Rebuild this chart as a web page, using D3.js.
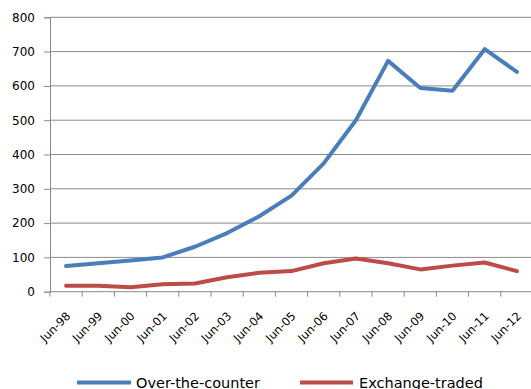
<!DOCTYPE html>
<html>
<head>
<meta charset="utf-8">
<script src="https://cdn.jsdelivr.net/npm/d3@7/dist/d3.min.js"></script>
<style>
  html, body { margin: 0; padding: 0; background: #ffffff; }
  svg { display: block; }
  text { font-family: "DejaVu Sans", Verdana, sans-serif; fill: #000; }
</style>
</head>
<body>
<svg id="chart" width="531" height="389"></svg>
<script>
// Semiannual dates (June of each year)
const categories = ["Jun-98", "Jun-99", "Jun-00", "Jun-01", "Jun-02", "Jun-03", "Jun-04",
  "Jun-05", "Jun-06", "Jun-07", "Jun-08", "Jun-09", "Jun-10", "Jun-11", "Jun-12"];

// Notional amounts outstanding
const overTheCounter = [75, 83, 91, 100, 131, 171, 220, 280, 374, 500, 673, 594, 586, 707, 641];
const exchangeTraded = [17, 17, 13, 22, 24, 42, 55, 60, 83, 97, 83, 65, 76, 85, 60];

const yTicks = [0, 100, 200, 300, 400, 500, 600, 700, 800];

const seriesNames = ["Over-the-counter", "Exchange-traded"];
const seriesColors = ["#4a7ebb", "#be4b48"];

const svg = d3.select("#chart");

const plotLeft = 50, plotRight = 533, plotTop = 17.3, plotBottom = 291.7;

const x = d3.scaleBand().domain(categories).range([plotLeft, plotRight]).padding(0);
const y = d3.scaleLinear().domain([0, 800]).range([plotBottom, plotTop]);

// Horizontal gridlines
svg.append("g")
  .selectAll("line")
  .data(yTicks.filter(d => d > 0))
  .join("line")
  .attr("x1", plotLeft).attr("x2", plotRight)
  .attr("y1", d => y(d)).attr("y2", d => y(d))
  .attr("stroke", "#8a8a8a").attr("stroke-width", 1);

// Y axis
const yAxis = svg.append("g")
  .attr("transform", `translate(${plotLeft},0)`)
  .call(d3.axisLeft(y).tickValues(yTicks).tickSize(6).tickPadding(9).tickFormat(d3.format("d")));
yAxis.select(".domain").attr("stroke", "#8a8a8a");
yAxis.selectAll(".tick line").attr("stroke", "#8a8a8a");
yAxis.selectAll(".tick text")
  .style("font-family", "'DejaVu Sans', Verdana, sans-serif")
  .style("font-size", "12px").attr("fill", "#000");

// X axis: tick marks at category boundaries
const xAxisG = svg.append("g").attr("transform", `translate(0,${plotBottom})`);
xAxisG.append("line")
  .attr("x1", plotLeft).attr("x2", plotRight).attr("y1", 0).attr("y2", 0)
  .attr("stroke", "#8a8a8a");
const boundaries = categories.map(c => x(c)).concat([x(categories[categories.length - 1]) + x.bandwidth()]);
xAxisG.selectAll("line.tk")
  .data(boundaries)
  .join("line")
  .attr("class", "tk")
  .attr("x1", d => d).attr("x2", d => d)
  .attr("y1", 0).attr("y2", 5)
  .attr("stroke", "#8a8a8a");

// Rotated category labels
svg.append("g")
  .selectAll("text")
  .data(categories)
  .join("text")
  .attr("transform", d => `translate(${x(d) + x.bandwidth() / 2 + 5},${plotBottom + 25}) rotate(-45)`)
  .attr("text-anchor", "end")
  .style("font-size", "11.5px")
  .text(d => d);

// Series lines
const line = d3.line()
  .x((d, i) => x(categories[i]) + x.bandwidth() / 2)
  .y(d => y(d));

[overTheCounter, exchangeTraded].forEach((vals, k) => {
  svg.append("path")
    .datum(vals)
    .attr("d", line)
    .attr("fill", "none")
    .attr("stroke", seriesColors[k])
    .attr("stroke-width", 4)
    .attr("stroke-linejoin", "round")
    .attr("stroke-linecap", "round");
});

// Legend
const legendItems = [
  { name: seriesNames[0], color: seriesColors[0], x1: 77, x2: 131, tx: 136 },
  { name: seriesNames[1], color: seriesColors[1], x1: 300, x2: 353, tx: 359 }
];
const legendY = 382.5;
const lg = svg.append("g");
legendItems.forEach(it => {
  lg.append("line")
    .attr("x1", it.x1).attr("x2", it.x2)
    .attr("y1", legendY).attr("y2", legendY)
    .attr("stroke", it.color).attr("stroke-width", 4);
  lg.append("text")
    .attr("x", it.tx).attr("y", legendY + 5)
    .style("font-size", "14.5px")
    .text(it.name);
});
</script>
</body>
</html>
